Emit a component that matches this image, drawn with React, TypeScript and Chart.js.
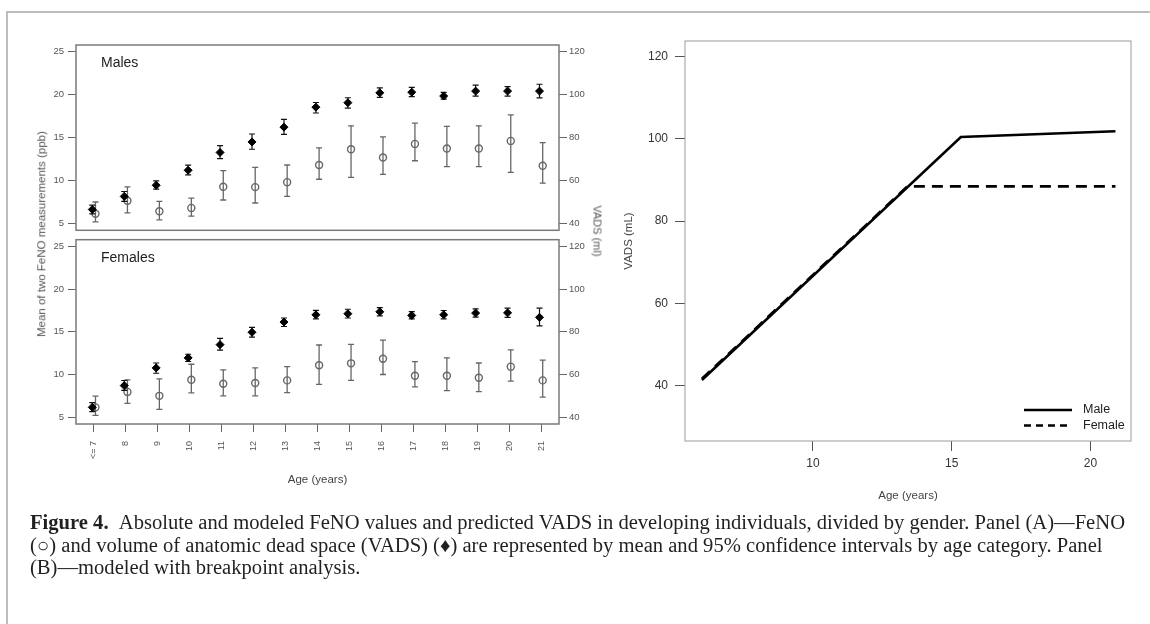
import React, { useEffect, useLayoutEffect, useRef } from "react";
import { Chart, registerables } from "chart.js";

Chart.register(...registerables);

// ---------- Panel A data ----------
const ageLabels = ["<= 7", "8", "9", "10", "11", "12", "13", "14", "15", "16", "17", "18", "19", "20", "21"];
const ageValues = [7, 8, 9, 10, 11, 12, 13, 14, 15, 16, 17, 18, 19, 20, 21];

// Males – VADS (ml), right axis (diamonds)
const maleVadsMean = [46.5, 52.6, 57.8, 64.8, 73.1, 78.0, 84.9, 94.2, 96.3, 100.9, 101.2, 99.4, 101.7, 101.7, 101.7];
const maleVadsLow = [44.5, 50.3, 56.0, 62.6, 70.2, 74.6, 81.5, 91.5, 93.8, 98.8, 99.1, 98.0, 99.4, 99.4, 98.5];
const maleVadsHigh = [48.5, 54.9, 59.8, 67.2, 76.3, 81.7, 88.5, 96.4, 98.6, 103.2, 103.4, 101.1, 104.5, 103.8, 104.9];
// Males – FeNO (ppb), left axis (circles)
const maleFenoMean = [6.12, 7.65, 6.42, 6.81, 9.27, 9.23, 9.81, 11.81, 13.65, 12.69, 14.27, 13.73, 13.73, 14.62, 11.73];
const maleFenoLow = [5.19, 6.23, 5.42, 5.85, 7.73, 7.38, 8.15, 10.15, 10.38, 10.73, 12.31, 11.62, 11.62, 10.96, 9.69];
const maleFenoHigh = [7.5, 9.27, 7.58, 7.96, 11.15, 11.54, 11.81, 13.81, 16.38, 15.08, 16.69, 16.31, 16.38, 17.65, 14.42];

// Females – VADS (ml)
const femaleVadsMean = [44.6, 54.8, 63.1, 67.8, 74.0, 79.8, 84.6, 88.0, 88.5, 89.4, 87.7, 88.0, 88.8, 88.9, 86.8];
const femaleVadsLow = [42.6, 52.6, 60.6, 66.1, 71.4, 77.5, 82.5, 86.1, 86.5, 87.5, 86.1, 86.1, 86.9, 86.8, 82.8];
const femaleVadsHigh = [46.8, 57.2, 65.4, 69.5, 76.9, 82.1, 86.5, 90.1, 90.6, 91.4, 89.5, 90.0, 90.8, 91.1, 91.1];
// Females – FeNO (ppb)
const femaleFenoMean = [6.15, 7.96, 7.5, 9.38, 8.92, 9.0, 9.31, 11.08, 11.31, 11.85, 9.85, 9.85, 9.62, 10.92, 9.31];
const femaleFenoLow = [5.2, 6.62, 5.92, 7.85, 7.5, 7.5, 7.88, 8.85, 9.31, 10.0, 8.54, 8.1, 8.0, 9.23, 7.35];
const femaleFenoHigh = [7.46, 9.38, 9.5, 11.2, 10.54, 10.77, 10.92, 13.46, 13.54, 14.04, 11.5, 11.96, 11.35, 12.88, 11.69];

const fenoTicks = [5, 10, 15, 20, 25];
const vadsTicks = [40, 60, 80, 100, 120];

// ---------- Panel B data ----------
const modelMaleAge = [6.0, 15.33, 20.9];
const modelMaleVads = [41.4, 100.4, 101.8];
const modelFemaleAge = [6.0, 13.4, 20.9];
const modelFemaleVads = [41.7, 88.4, 88.4];
const modelXTicks = [10, 15, 20];
const modelYTicks = [40, 60, 80, 100, 120];

const SANS = '"Liberation Sans", Arial, Helvetica, sans-serif';

function meanPoints(xs: number[], ys: number[], off: number) {
  return xs.map((x, i) => ({ x: x + off, y: ys[i] }));
}
function barSegments(xs: number[], lo: number[], hi: number[], off: number) {
  const pts: any[] = [];
  xs.forEach((x, i) => {
    pts.push({ x: x + off, y: lo[i] }, { x: x + off, y: hi[i] }, { x: x + off, y: null });
  });
  return pts;
}
function capPoints(xs: number[], lo: number[], hi: number[], off: number) {
  const pts: any[] = [];
  xs.forEach((x, i) => {
    pts.push({ x: x + off, y: lo[i] }, { x: x + off, y: hi[i] });
  });
  return pts;
}

function framePlugin(color: string, width: number, label?: string) {
  return {
    id: "frame",
    beforeDatasetsDraw(chart: any) {
      const { ctx, chartArea: a } = chart;
      ctx.save();
      ctx.strokeStyle = color;
      ctx.lineWidth = width;
      ctx.strokeRect(a.left, a.top, a.right - a.left, a.bottom - a.top);
      if (label) {
        ctx.fillStyle = "#222";
        ctx.font = `14px ${SANS}`;
        ctx.textAlign = "left";
        ctx.textBaseline = "middle";
        ctx.fillText(label, a.left + 25, a.top + 18);
      }
      ctx.restore();
    },
  };
}

const cornerLegend = {
  id: "cornerLegend",
  afterDatasetsDraw(chart: any) {
    const { ctx, chartArea: a } = chart;
    chart.data.datasets.forEach((ds: any, i: number) => {
      const y = a.bottom - 31 + i * 15.5;
      ctx.save();
      ctx.strokeStyle = ds.borderColor;
      ctx.lineWidth = ds.borderWidth;
      ctx.setLineDash(ds.borderDash && ds.borderDash.length ? [7, 5] : []);
      ctx.beginPath();
      ctx.moveTo(a.right - 107, y);
      ctx.lineTo(a.right - 59, y);
      ctx.stroke();
      ctx.setLineDash([]);
      ctx.fillStyle = "#222";
      ctx.font = `12.5px ${SANS}`;
      ctx.textAlign = "left";
      ctx.textBaseline = "middle";
      ctx.fillText(ds.label, a.right - 48, y);
      ctx.restore();
    });
  },
};

function panelConfig(p: {
  vMean: number[]; vLow: number[]; vHigh: number[];
  fMean: number[]; fLow: number[]; fHigh: number[];
  label: string; showX: boolean; padTop: number; padBottom: number;
}): any {
  const dOff = -0.05;
  const cOff = 0.05;
  const circleColor = "#666";
  const xScale: any = {
    type: "linear",
    min: 6.44,
    max: 21.56,
    display: p.showX,
    afterBuildTicks: (a: any) => { a.ticks = ageValues.map((v) => ({ value: v })); },
    ticks: {
      autoSkip: false, minRotation: 90, maxRotation: 90,
      font: { size: 9, family: SANS }, color: "#555", padding: 9,
      callback: (v: any) => { const i = ageValues.indexOf(Number(v)); return i >= 0 ? ageLabels[i] : ""; },
    },
    grid: { drawOnChartArea: false, drawTicks: true, tickLength: 8, color: "#666", lineWidth: 1 },
    border: { display: false },
    title: { display: true, text: "Age (years)", color: "#444", font: { size: 11.5, family: SANS }, padding: { top: 0, bottom: 13 } },
  };
  if (p.showX) xScale.afterFit = (s: any) => { s.height = 76; };
  return {
    type: "scatter",
    data: {
      datasets: [
        { label: "VADS", data: meanPoints(ageValues, p.vMean, dOff), yAxisID: "yR", pointStyle: "rectRot", pointRadius: 4, backgroundColor: "#000", borderColor: "#000", borderWidth: 1 },
        { label: "VADS CI", data: barSegments(ageValues, p.vLow, p.vHigh, dOff), yAxisID: "yR", showLine: true, borderColor: "#111", borderWidth: 1.2, pointRadius: 0 },
        { label: "VADS CI caps", data: capPoints(ageValues, p.vLow, p.vHigh, dOff), yAxisID: "yR", pointStyle: "line", pointRadius: 3, borderColor: "#111", borderWidth: 1.2 },
        { label: "FeNO", data: meanPoints(ageValues, p.fMean, cOff), yAxisID: "yL", pointStyle: "circle", pointRadius: 3.5, backgroundColor: "rgba(255,255,255,0)", borderColor: circleColor, borderWidth: 1.4 },
        { label: "FeNO CI", data: barSegments(ageValues, p.fLow, p.fHigh, cOff), yAxisID: "yL", showLine: true, borderColor: circleColor, borderWidth: 1.3, pointRadius: 0 },
        { label: "FeNO CI caps", data: capPoints(ageValues, p.fLow, p.fHigh, cOff), yAxisID: "yL", pointStyle: "line", pointRadius: 3, borderColor: circleColor, borderWidth: 1.3 },
      ],
    },
    options: {
      responsive: false,
      animation: false,
      events: [],
      layout: { padding: { top: p.padTop, bottom: p.padBottom, left: 0, right: 0 } },
      plugins: { legend: { display: false }, tooltip: { enabled: false } },
      scales: {
        x: xScale,
        yL: {
          type: "linear", position: "left", min: 4.2, max: 25.8,
          afterBuildTicks: (a: any) => { a.ticks = fenoTicks.map((v) => ({ value: v })); },
          afterFit: (s: any) => { s.width = 76; },
          ticks: { font: { size: 9.5, family: SANS }, color: "#555", padding: 4 },
          grid: { drawOnChartArea: false, drawTicks: true, tickLength: 8, color: "#666" },
          border: { display: false },
        },
        yR: {
          type: "linear", position: "right", min: 36.8, max: 123.2,
          afterBuildTicks: (a: any) => { a.ticks = vadsTicks.map((v) => ({ value: v })); },
          afterFit: (s: any) => { s.width = 61; },
          ticks: { font: { size: 9.5, family: SANS }, color: "#555", padding: 2 },
          grid: { drawOnChartArea: false, drawTicks: true, tickLength: 8, color: "#666" },
          border: { display: false },
        },
      },
    },
    plugins: [framePlugin("#7a7a7a", 1.5, p.label)],
  };
}

function modelConfig(): any {
  return {
    type: "scatter",
    data: {
      datasets: [
        { label: "Male", data: modelMaleAge.map((x, i) => ({ x, y: modelMaleVads[i] })), showLine: true, borderColor: "#000", borderWidth: 2.6, pointRadius: 0, borderDash: [] },
        { label: "Female", data: modelFemaleAge.map((x, i) => ({ x, y: modelFemaleVads[i] })), showLine: true, borderColor: "#000", borderWidth: 2.6, pointRadius: 0, borderDash: [11, 7] },
      ],
    },
    options: {
      responsive: false,
      animation: false,
      events: [],
      layout: { padding: { top: 41, right: 19, left: 0, bottom: 0 } },
      plugins: { legend: { display: false }, tooltip: { enabled: false } },
      scales: {
        x: {
          type: "linear", min: 5.39, max: 21.46,
          afterBuildTicks: (a: any) => { a.ticks = modelXTicks.map((v) => ({ value: v })); },
          afterFit: (s: any) => { s.height = 79; },
          ticks: { font: { size: 12, family: SANS }, color: "#333", padding: 5, maxRotation: 0 },
          grid: { drawOnChartArea: false, drawTicks: true, tickLength: 10, color: "#555" },
          border: { display: false },
          title: { display: true, text: "Age (years)", color: "#444", font: { size: 11.5, family: SANS }, padding: { top: 0, bottom: 17 } },
        },
        y: {
          type: "linear", min: 26.6, max: 123.7,
          afterBuildTicks: (a: any) => { a.ticks = modelYTicks.map((v) => ({ value: v })); },
          afterFit: (s: any) => { s.width = 65; },
          ticks: { font: { size: 12, family: SANS }, color: "#333", padding: 7 },
          grid: { drawOnChartArea: false, drawTicks: true, tickLength: 10, color: "#555" },
          border: { display: false },
          title: { display: true, text: "VADS (mL)", color: "#444", font: { size: 11.5, family: SANS }, padding: { top: 2.4, bottom: 0 } },
        },
      },
    },
    plugins: [framePlugin("#9a9a9a", 1), cornerLegend],
  };
}

function ChartCanvas(props: { make: () => any; left: number; top: number; width: number; height: number }) {
  const ref = useRef<HTMLCanvasElement>(null);
  useEffect(() => {
    const chart = new Chart(ref.current as HTMLCanvasElement, props.make());
    return () => chart.destroy();
  }, []);
  return (
    <canvas
      ref={ref}
      width={props.width}
      height={props.height}
      style={{ position: "absolute", left: props.left, top: props.top, width: props.width, height: props.height }}
    />
  );
}

export default function App() {
  const capRef = useRef<HTMLDivElement>(null);
  const line1Ref = useRef<HTMLSpanElement>(null);
  useLayoutEffect(() => {
    if (capRef.current && line1Ref.current) {
      const w = line1Ref.current.getBoundingClientRect().width;
      if (w > 0) capRef.current.style.transform = `scaleX(${1095 / w})`;
    }
  }, []);

  const rotText = (text: string, cx: number, cy: number, deg: number, size: number) => (
    <div
      style={{
        position: "absolute", left: cx, top: cy, transform: `translate(-50%, -50%) rotate(${deg}deg)`,
        whiteSpace: "nowrap", fontFamily: SANS, fontSize: size, color: "#555", lineHeight: 1,
      }}
    >
      {text}
    </div>
  );

  return (
    <div style={{ position: "absolute", left: 0, top: 0, width: 1150, height: 624, background: "#fff", overflow: "hidden" }}>
      <div style={{ position: "absolute", left: 6, top: 11, width: 1144, height: 1.5, background: "#bdbdbd" }} />
      <div style={{ position: "absolute", left: 6, top: 11, width: 1.5, height: 613, background: "#bdbdbd" }} />

      <ChartCanvas
        make={() => panelConfig({ vMean: maleVadsMean, vLow: maleVadsLow, vHigh: maleVadsHigh, fMean: maleFenoMean, fLow: maleFenoLow, fHigh: maleFenoHigh, label: "Males", showX: false, padTop: 45, padBottom: 7 })}
        left={0} top={0} width={620} height={240}
      />
      <ChartCanvas
        make={() => panelConfig({ vMean: femaleVadsMean, vLow: femaleVadsLow, vHigh: femaleVadsHigh, fMean: femaleFenoMean, fLow: femaleFenoLow, fHigh: femaleFenoHigh, label: "Females", showX: true, padTop: 7, padBottom: 0 })}
        left={0} top={230} width={620} height={270}
      />
      {rotText("Mean of two FeNO measurements (ppb)", 42, 234, -90, 11.5)}
      {rotText("VADS (ml)", 597, 231, 90, 11)}

      <ChartCanvas make={modelConfig} left={620} top={0} width={530} height={520} />

      <div
        ref={capRef}
        style={{
          position: "absolute", left: 30, top: 511, transformOrigin: "0 0",
          fontFamily: '"Liberation Serif", "Times New Roman", serif', fontSize: 20, lineHeight: "22.5px",
          color: "#231f20", whiteSpace: "nowrap",
        }}
      >
        <div>
          <span ref={line1Ref}>
            <b>Figure 4.</b>{"\u2002"}Absolute and modeled FeNO values and predicted VADS in developing individuals, divided by gender. Panel (A)—FeNO
          </span>
        </div>
        <div>(○) and volume of anatomic dead space (VADS) (♦) are represented by mean and 95% confidence intervals by age category. Panel</div>
        <div>(B)—modeled with breakpoint analysis.</div>
      </div>
    </div>
  );
}
